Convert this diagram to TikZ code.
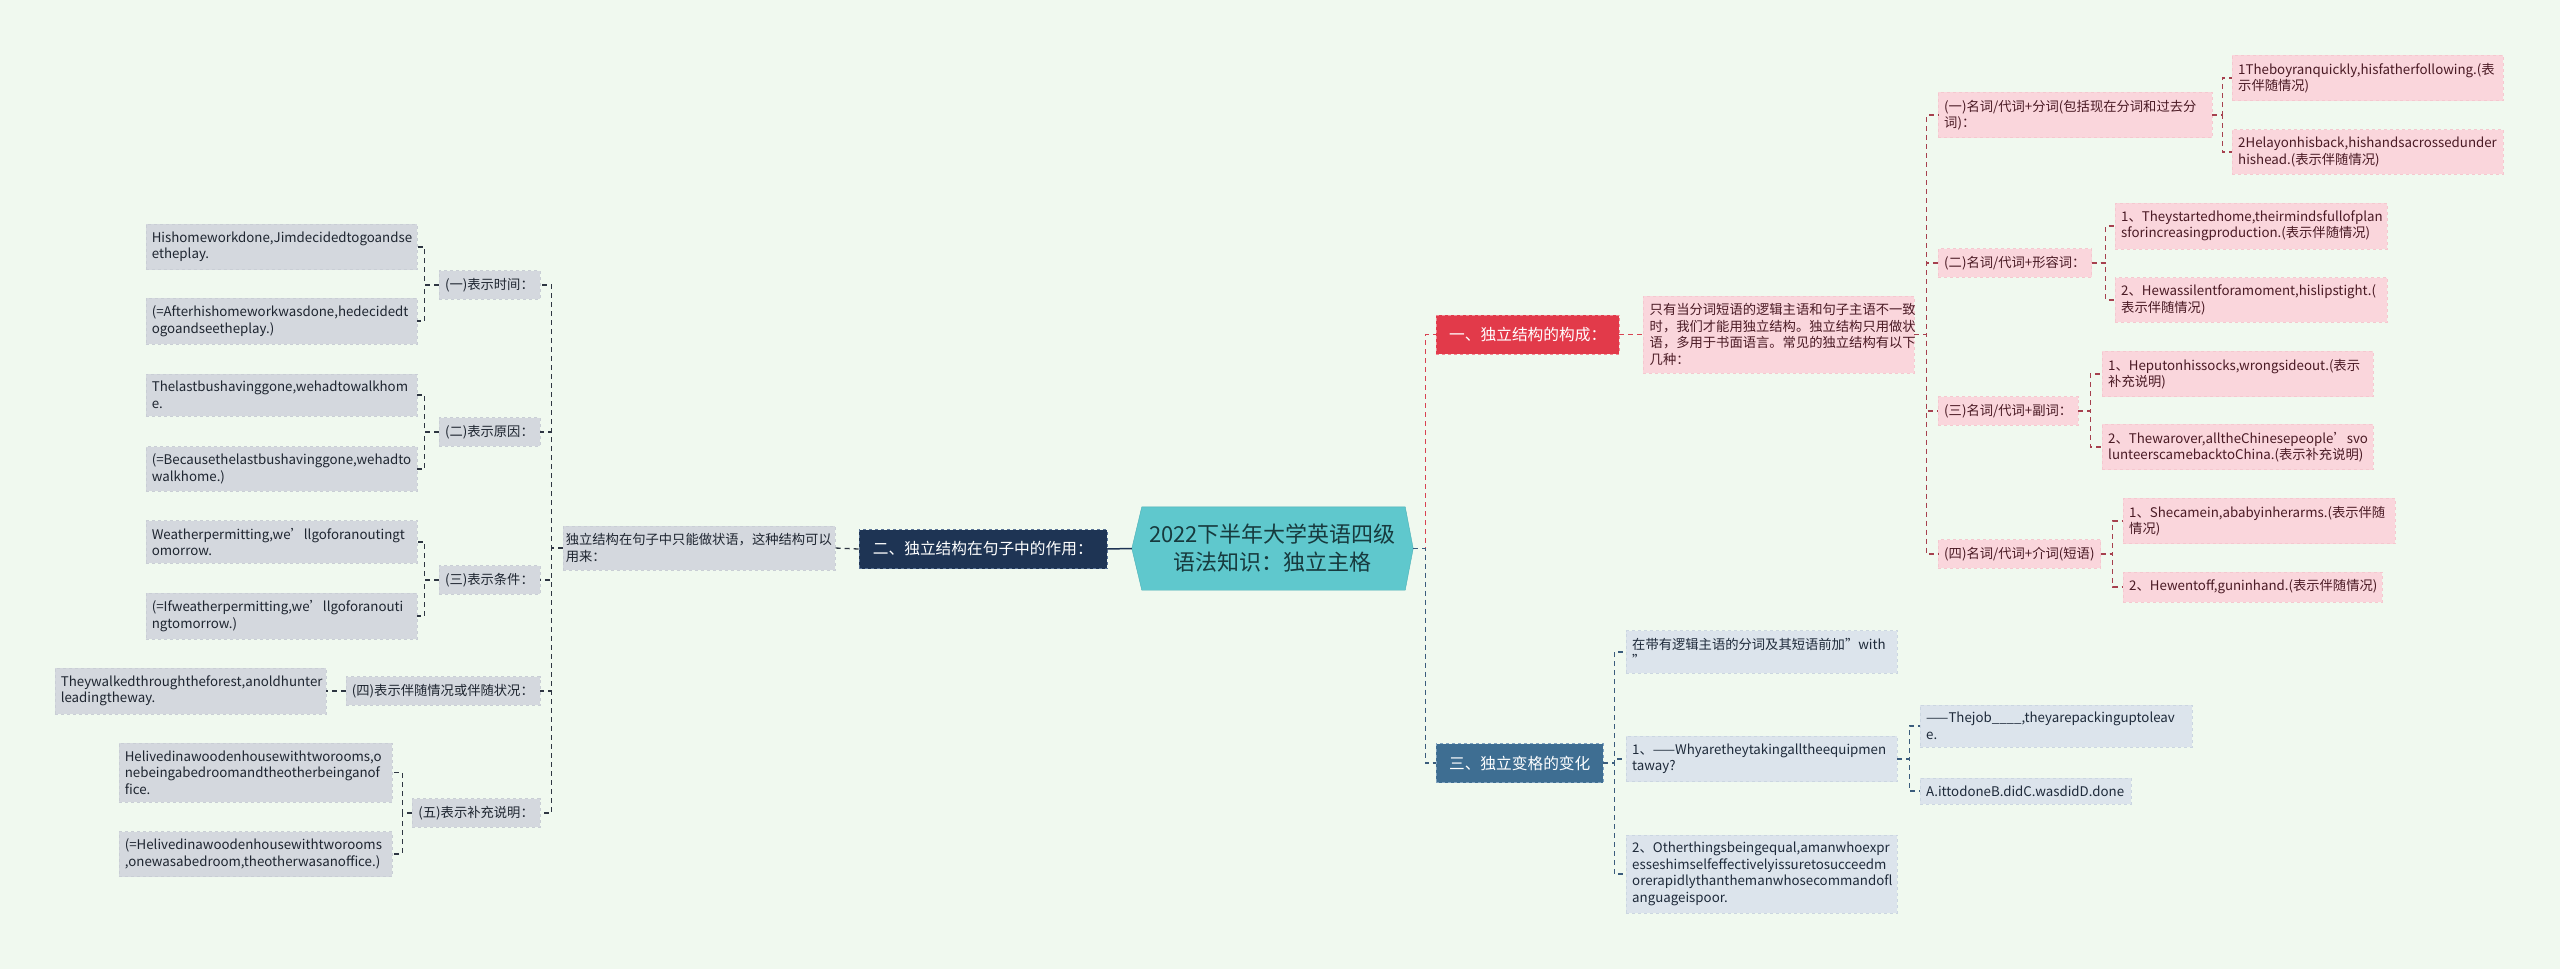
\documentclass[tikz,border=0pt]{standalone}
\usepackage{fontspec}
\newfontfamily\cjk{Noto Sans CJK SC}
\usepackage{xcolor}
\usepackage{tikz}
\usetikzlibrary{backgrounds}
\hyphenpenalty=10000
\exhyphenpenalty=10000

\definecolor{bgmint}{HTML}{F0F9EF}
\definecolor{rootteal}{HTML}{5FC8CD}
\definecolor{rootedge}{HTML}{4AB0B5}
\definecolor{roottext}{HTML}{173A3E}
\definecolor{redhead}{HTML}{E23A4A}
\definecolor{rededge}{HTML}{F08A94}
\definecolor{redline}{HTML}{D84352}
\definecolor{pinkfill}{HTML}{FAD6DC}
\definecolor{pinkedge}{HTML}{F5C8CF}
\definecolor{pinktext}{HTML}{4A1A24}
\definecolor{pinkline}{HTML}{A6404E}
\definecolor{navyhead}{HTML}{1E3454}
\definecolor{navyedge}{HTML}{5A7396}
\definecolor{grayfill}{HTML}{D4D8DE}
\definecolor{grayedge}{HTML}{C9CED5}
\definecolor{graytext}{HTML}{1E2530}
\definecolor{grayline}{HTML}{2E3642}
\definecolor{slatehead}{HTML}{3E6E92}
\definecolor{slateedge}{HTML}{7FA2BF}
\definecolor{slatefill}{HTML}{DCE4EC}
\definecolor{slatesoft}{HTML}{CBD6E1}
\definecolor{slatetext}{HTML}{1E2A3A}
\definecolor{slateline}{HTML}{3A5C7C}

\begin{document}
\begin{tikzpicture}[x=1pt,y=-1pt,
  box/.style={rectangle,inner xsep=6pt,inner ysep=7.5pt,align=left,dashed,
    font=\cjk\fontsize{13.3}{16.5}\selectfont},
  pinkbox/.style={box,fill=pinkfill,draw=pinkedge,text=pinktext},
  graybox/.style={box,fill=grayfill,draw=grayedge,text=graytext},
  slatebox/.style={box,fill=slatefill,draw=slatesoft,text=slatetext},
  headbox/.style={rectangle,inner xsep=8pt,minimum height=39pt,dashed,text=white,
    font=\cjk\fontsize{15.7}{19}\selectfont},
  link/.style={dash pattern=on 5pt off 4pt,line width=1.3pt},
  redlink/.style={link,draw=redline},
  pinklink/.style={link,draw=pinkline},
  slatelink/.style={link,draw=slateline},
  graylink/.style={link,draw=grayline}]
\begin{scope}[on background layer]
\fill[bgmint] (0,0) rectangle (2560,969);
\end{scope}
\useasboundingbox (0,0) rectangle (2560,969);

% centre
\node[minimum width=281pt,minimum height=83pt,align=center,text=roottext,
  font=\cjk\fontsize{22}{28}\selectfont] (root) at (1272.5,548.5)
  {2022下半年大学英语四级\\语法知识：独立主格};
\begin{scope}[on background layer]
\filldraw[fill=rootteal,draw=rootedge] (root.west) -- ([xshift=10pt]root.north west)
  -- ([xshift=-8pt]root.north east) -- (root.east) -- ([xshift=-8pt]root.south east)
  -- ([xshift=10pt]root.south west) -- cycle;
\end{scope}

% right: 一
\node[headbox,fill=redhead,draw=rededge,minimum width=183pt,anchor=west] (b1) at (1436,334.5) {一、独立结构的构成：};
\node[pinkbox,text width=258pt,inner xsep=6.5pt,anchor=west] (d1) at (1643,334.5)
  {只有当分词短语的逻辑主语和句子主语不一致\\时，我们才能用独立结构。独立结构只用做状\\语，多用于书面语言。常见的独立结构有以下\\几种：};
\node[pinkbox,text width=262pt,anchor=west] (s1) at (1938,115) {(一)名词/代词+分词(包括现在分词和过去分\\词)：};
\node[pinkbox,text width=259pt,anchor=west] (s1a) at (2232,78) {1Theboyranquickly,hisfatherfollowing.(表\\示伴随情况)};
\node[pinkbox,text width=259pt,anchor=west] (s1b) at (2232,152) {2Helayonhisback,hishandsacrossedunder\\hishead.(表示伴随情况)};
\node[pinkbox,anchor=west] (s2) at (1938,263) {(二)名词/代词+形容词：};
\node[pinkbox,text width=260pt,anchor=west] (s2a) at (2115,226) {1、Theystartedhome,theirmindsfullofplan\\sforincreasingproduction.(表示伴随情况)};
\node[pinkbox,text width=260pt,anchor=west] (s2b) at (2115,300) {2、Hewassilentforamoment,hislipstight.(\\表示伴随情况)};
\node[pinkbox,anchor=west] (s3) at (1938,411) {(三)名词/代词+副词：};
\node[pinkbox,text width=259pt,anchor=west] (s3a) at (2102,374) {1、Heputonhissocks,wrongsideout.(表示\\补充说明)};
\node[pinkbox,text width=259pt,anchor=west] (s3b) at (2102,447) {2、Thewarover,alltheChinesepeople’svo\\lunteerscamebacktoChina.(表示补充说明)};
\node[pinkbox,anchor=west] (s4) at (1938,554) {(四)名词/代词+介词(短语)};
\node[pinkbox,text width=260pt,anchor=west] (s4a) at (2123,521) {1、Shecamein,ababyinherarms.(表示伴随\\情况)};
\node[pinkbox,text width=247pt,anchor=west] (s4b) at (2123,587) {2、Hewentoff,guninhand.(表示伴随情况)};

% right: 三
\node[headbox,fill=slatehead,draw=slateedge,minimum width=167pt,anchor=west] (b3) at (1436,763) {三、独立变格的变化};
\node[slatebox,text width=259pt,anchor=west] (t1) at (1626,652) {在带有逻辑主语的分词及其短语前加”with\\”};
\node[slatebox,text width=259pt,anchor=west] (t2) at (1626,759) {1、——Whyaretheytakingalltheequipmen\\taway?};
\node[slatebox,text width=260pt,anchor=west] (t2a) at (1920,726) {——Thejob\_\_\_\_,theyarepackinguptoleav\\e.};
\node[slatebox,text width=199pt,anchor=west] (t2b) at (1920,791) {A.ittodoneB.didC.wasdidD.done};
\node[slatebox,text width=259pt,anchor=west] (t3) at (1626,874) {2、Otherthingsbeingequal,amanwhoexpr\\esseshimselfeffectivelyissuretosucceedm\\orerapidlythanthemanwhosecommandofl\\anguageispoor.};

% left: 二
\node[headbox,fill=navyhead,draw=navyedge,minimum width=248pt,anchor=east] (b2) at (1107,549) {二、独立结构在句子中的作用：};
\node[graybox,text width=266pt,inner xsep=3pt,anchor=east] (m1) at (835,548) {独立结构在句子中只能做状语，这种结构可以\\用来：};
\node[graybox,anchor=east] (l1) at (540,285) {(一)表示时间：};
\node[graybox,text width=259pt,anchor=east] (l1a) at (417,247) {Hishomeworkdone,Jimdecidedtogoandse\\etheplay.};
\node[graybox,text width=259pt,anchor=east] (l1b) at (417,321) {(=Afterhishomeworkwasdone,hedecidedt\\ogoandseetheplay.)};
\node[graybox,anchor=east] (l2) at (540,432) {(二)表示原因：};
\node[graybox,text width=259pt,anchor=east] (l2a) at (417,395) {Thelastbushavinggone,wehadtowalkhom\\e.};
\node[graybox,text width=259pt,anchor=east] (l2b) at (417,469) {(=Becausethelastbushavinggone,wehadto\\walkhome.)};
\node[graybox,anchor=east] (l3) at (540,580) {(三)表示条件：};
\node[graybox,text width=259pt,anchor=east] (l3a) at (417,542) {Weatherpermitting,we’llgoforanoutingt\\omorrow.};
\node[graybox,text width=259pt,anchor=east] (l3b) at (417,616) {(=Ifweatherpermitting,we’llgoforanouti\\ngtomorrow.)};
\node[graybox,anchor=east] (l4) at (540,691) {(四)表示伴随情况或伴随状况：};
\node[graybox,text width=259pt,anchor=east] (l4a) at (326,691) {Theywalkedthroughtheforest,anoldhunter\\leadingtheway.};
\node[graybox,anchor=east] (l5) at (540,813) {(五)表示补充说明：};
\node[graybox,text width=261pt,anchor=east] (l5a) at (392,772.5) {Helivedinawoodenhousewithtworooms,o\\nebeingabedroomandtheotherbeinganof\\fice.};
\node[graybox,text width=261pt,anchor=east] (l5b) at (392,854) {(=Helivedinawoodenhousewithtworooms\\,onewasabedroom,theotherwasanoffice.)};

% links
\draw[redlink] (root.east) -- ++(12,0) |- (b1.west);
\draw[slatelink] (root.east) -- ++(12,0) |- (b3.west);
\draw[redlink] (b1.east) -- (d1.west);
\foreach \s in {s1,s2,s3,s4}
  \draw[pinklink] (d1.east) -- ++(12,0) |- (\s.west);
\foreach \c in {s1a,s1b} \draw[pinklink] (s1.east) -- ++(10,0) |- (\c.west);
\foreach \c in {s2a,s2b} \draw[pinklink] (s2.east) -- ++(14,0) |- (\c.west);
\foreach \c in {s3a,s3b} \draw[pinklink] (s3.east) -- ++(12,0) |- (\c.west);
\foreach \c in {s4a,s4b} \draw[pinklink] (s4.east) -- ++(12,0) |- (\c.west);
\foreach \t in {t1,t2,t3}
  \draw[slatelink] (b3.east) -- ++(11,0) |- (\t.west);
\foreach \c in {t2a,t2b} \draw[slatelink] (t2.east) -- ++(12,0) |- (\c.west);

\draw[draw=navyhead,line width=1.5pt] (root.west) -- (b2.east);
\draw[graylink] (b2.west) -- (m1.east);
\foreach \l in {l1,l2,l3,l4,l5}
  \draw[graylink] (m1.west) -- ++(-11,0) |- (\l.east);
\foreach \c in {l1a,l1b} \draw[graylink] (l1.west) -- ++(-14,0) |- (\c.east);
\foreach \c in {l2a,l2b} \draw[graylink] (l2.west) -- ++(-14,0) |- (\c.east);
\foreach \c in {l3a,l3b} \draw[graylink] (l3.west) -- ++(-14,0) |- (\c.east);
\draw[graylink] (l4.west) -- (l4a.east);
\foreach \c in {l5a,l5b} \draw[graylink] (l5.west) -- ++(-10,0) |- (\c.east);
\end{tikzpicture}
\end{document}
